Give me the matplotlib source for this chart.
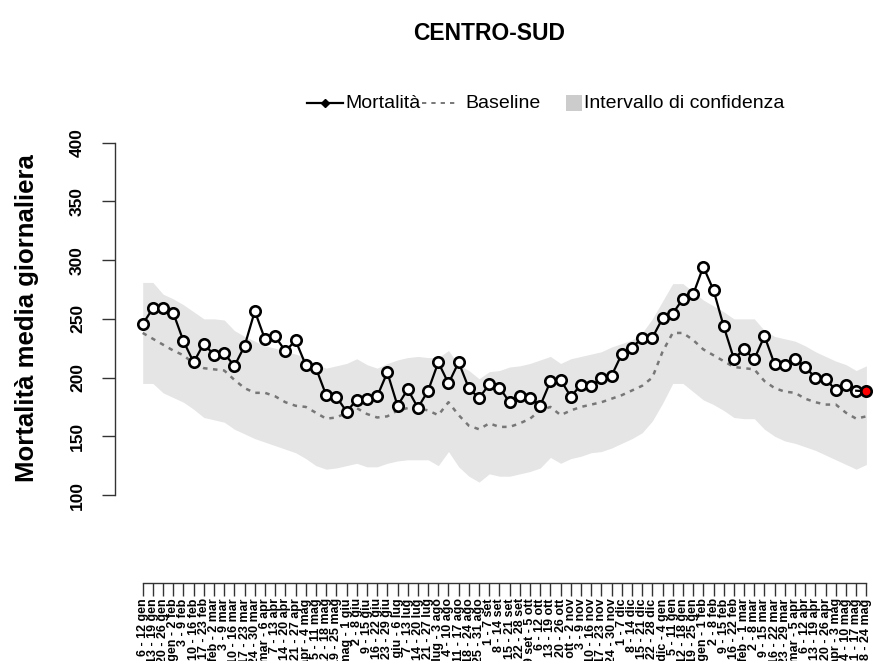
import matplotlib
matplotlib.use("Agg")
import matplotlib.pyplot as plt
from matplotlib.lines import Line2D
from matplotlib.patches import Rectangle
import numpy as np

plt.rcParams['font.family'] = ['Liberation Sans', 'DejaVu Sans']

weeks = [
    "6 - 12 gen", "13 - 19 gen", "20 - 26 gen", "27 gen - 2 feb", "3 - 9 feb",
    "10 - 16 feb", "17 - 23 feb", "24 feb - 2 mar", "3 - 9 mar", "10 - 16 mar",
    "17 - 23 mar", "24 - 30 mar", "31 mar - 6 apr", "7 - 13 apr", "14 - 20 apr",
    "21 - 27 apr", "28 apr - 4 mag", "5 - 11 mag", "12 - 18 mag", "19 - 25 mag",
    "26 mag - 1 giu", "2 - 8 giu", "9 - 15 giu", "16 - 22 giu", "23 - 29 giu",
    "30 giu - 6 lug", "7 - 13 lug", "14 - 20 lug", "21 - 27 lug", "28 lug - 3 ago",
    "4 - 10 ago", "11 - 17 ago", "18 - 24 ago", "25 - 31 ago", "1 - 7 set",
    "8 - 14 set", "15 - 21 set", "22 - 28 set", "29 set - 5 ott", "6 - 12 ott",
    "13 - 19 ott", "20 - 26 ott", "27 ott - 2 nov", "3 - 9 nov", "10 - 16 nov",
    "17 - 23 nov", "24 - 30 nov", "1 - 7 dic", "8 - 14 dic", "15 - 21 dic",
    "22 - 28 dic", "29 dic - 4 gen", "5 - 11 gen", "12 - 18 gen", "19 - 25 gen",
    "26 gen - 1 feb", "2 - 8 feb", "9 - 15 feb", "16 - 22 feb", "23 feb - 1 mar",
    "2 - 8 mar", "9 - 15 mar", "16 - 22 mar", "23 - 29 mar", "30 mar - 5 apr",
    "6 - 12 apr", "13 - 19 apr", "20 - 26 apr", "27 apr - 3 mag", "4 - 10 mag",
    "11 - 17 mag", "18 - 24 mag",
]

mortalita = [
    245.5, 259, 259, 255, 231, 213, 229, 219, 220.6, 209.8,
    227, 256.6, 232.5, 235, 222.5, 231.6, 210.6, 208, 185, 183.7,
    171, 181, 181.7, 184, 204.4, 176, 190, 174.3, 188.8, 213,
    195, 213, 190.8, 182.6, 194.2, 191.5, 178.9, 184.3, 182.8, 176,
    196.7, 198.1, 183.7, 193.9, 192.5, 199.6, 201.6, 220, 225.4, 233.9,
    233.9, 250.4, 254.5, 267, 270.8, 294.3, 274.5, 243.6, 216, 224,
    215.7, 235.3, 211.2, 210.6, 215.7, 209.2, 199.6, 199, 189.1, 193.3,
    188.8, 188.3,
]

baseline = [
    238, 233, 228, 223, 219, 212, 208, 207, 206, 198,
    191, 187, 187, 184, 179, 176, 175, 170, 165, 166,
    170, 174, 169, 166, 167, 172, 174, 174, 172, 168,
    179, 168, 159, 156, 161, 158, 158, 161, 165, 172,
    175, 168, 172, 175, 177, 179, 182, 185, 189, 193,
    200, 222, 238, 238, 232, 224, 219, 214, 209, 208,
    207, 197, 191, 188, 187, 182, 179, 177, 177, 170,
    165, 167,
]

upper = [
    281, 281, 271, 267, 262, 256, 250, 250, 249, 240,
    235, 231, 227, 225, 222, 220, 217, 211, 208, 210,
    212, 216, 211, 208, 212, 215, 217, 218, 217, 217,
    223, 211, 206, 199, 205, 206, 209, 210, 212, 215,
    218, 212, 216, 218, 220, 222, 226, 229, 232, 238,
    250, 265, 280, 280, 273, 266, 261, 256, 250, 250,
    250, 240, 235, 233, 231, 227, 222, 218, 214, 211,
    206, 210,
]

lower = [
    195, 195, 187, 183, 179, 173, 166, 164, 162, 156,
    152, 148, 145, 142, 139, 136, 131, 125, 122, 123,
    125, 127, 124, 124, 127, 129, 130, 130, 130, 125,
    137, 124, 116, 111, 118, 116, 116, 118, 120, 123,
    132, 127, 131, 133, 136, 137, 140, 144, 148, 153,
    163, 178, 195, 195, 188, 181, 177, 172, 166, 165,
    165, 156, 150, 146, 144, 141, 138, 134, 130, 126,
    122, 126,
]

yticks = [100, 150, 200, 250, 300, 350, 400]

W, H = 873, 661
fig = plt.figure(figsize=(W / 100, H / 100), dpi=100)

# axes placement in pixels
x_left_px, x_right_px = 115, 873
y_top_px, y_bot_px = 130, 583
ax = fig.add_axes([x_left_px / W, 1 - y_bot_px / H,
                   (x_right_px - x_left_px) / W, (y_bot_px - y_top_px) / H])

n = len(mortalita)
x = np.arange(n)
ppu_x = (866.4 - 142.7) / (n - 1)
ax.set_xlim(-(142.7 - x_left_px) / ppu_x, (n - 1) + (x_right_px - 866.4) / ppu_x)
ppu_y = (495 - 142.7) / 300
ax.set_ylim(100 - (y_bot_px - 495) / ppu_y, 400 + (142.7 - y_top_px) / ppu_y)

ax.fill_between(x, lower, upper, color='#E5E5E5', linewidth=0, zorder=1)
ax.plot(x, baseline, color='#777777', lw=1.8, dashes=(1.8, 2.2), zorder=2)
ax.plot(x[:-1], mortalita[:-1], color='black', lw=1.6, marker='o', ms=7.5,
        mfc='white', mec='black', mew=1.9, zorder=3)
ax.plot(x[-2:], mortalita[-2:], color='black', lw=1.6, zorder=3)
ax.plot(x[-1], mortalita[-1], marker='o', ms=7.5, mfc='red', mec='black',
        mew=1.9, zorder=4, linestyle='none')

for s in ['top', 'right']:
    ax.spines[s].set_visible(False)
ax.spines['left'].set_bounds(100, 400)
ax.spines['bottom'].set_bounds(0, n - 1)
for s in ['left', 'bottom']:
    ax.spines[s].set_linewidth(1.0)
    ax.spines[s].set_color('#333333')

ax.set_yticks(yticks)
ax.set_yticklabels([str(v) for v in yticks], rotation=90, va='center',
                   fontsize=12.5, fontweight='bold')
ax.set_xticks(x)
ax.set_xticklabels(weeks, rotation=90, fontsize=9, fontweight='bold')
ax.tick_params(axis='y', direction='out', length=9.5, width=1.0, pad=12,
               color='#333333')
ax.tick_params(axis='x', direction='out', length=9.0, width=1.0, pad=2,
               color='#333333')

fig.text(27 / W, 1 - 318 / H, 'Mortalità media giornaliera', rotation=90,
         ha='center', va='center', fontsize=18.5, fontweight='bold')
fig.text(489 / W, 1 - 33 / H, 'CENTRO-SUD', ha='center', va='center',
         fontsize=16.5, fontweight='bold')

# legend
ly = 1 - 103 / H
fig.add_artist(Line2D([307 / W, 343 / W], [ly, ly], color='black', lw=1.6))
fig.add_artist(Line2D([325 / W], [ly], color='black', marker='D', ms=4,
                      linestyle='none'))
fig.text(345 / W, ly, 'Mortalità', ha='left', va='center', fontsize=14)
fig.add_artist(Line2D([422 / W, 455 / W], [ly, ly], color='#777777', lw=1.4,
                      dashes=(2.2, 2.6)))
fig.text(465 / W, ly, 'Baseline', ha='left', va='center', fontsize=14)
fig.add_artist(Rectangle((566 / W, ly - 8 / H), 16 / W, 16 / H,
                         transform=fig.transFigure, color='#CCCCCC', lw=0))
fig.text(584 / W, ly, 'Intervallo di confidenza', ha='left', va='center',
         fontsize=14)

fig.savefig('out.png', dpi=100)
